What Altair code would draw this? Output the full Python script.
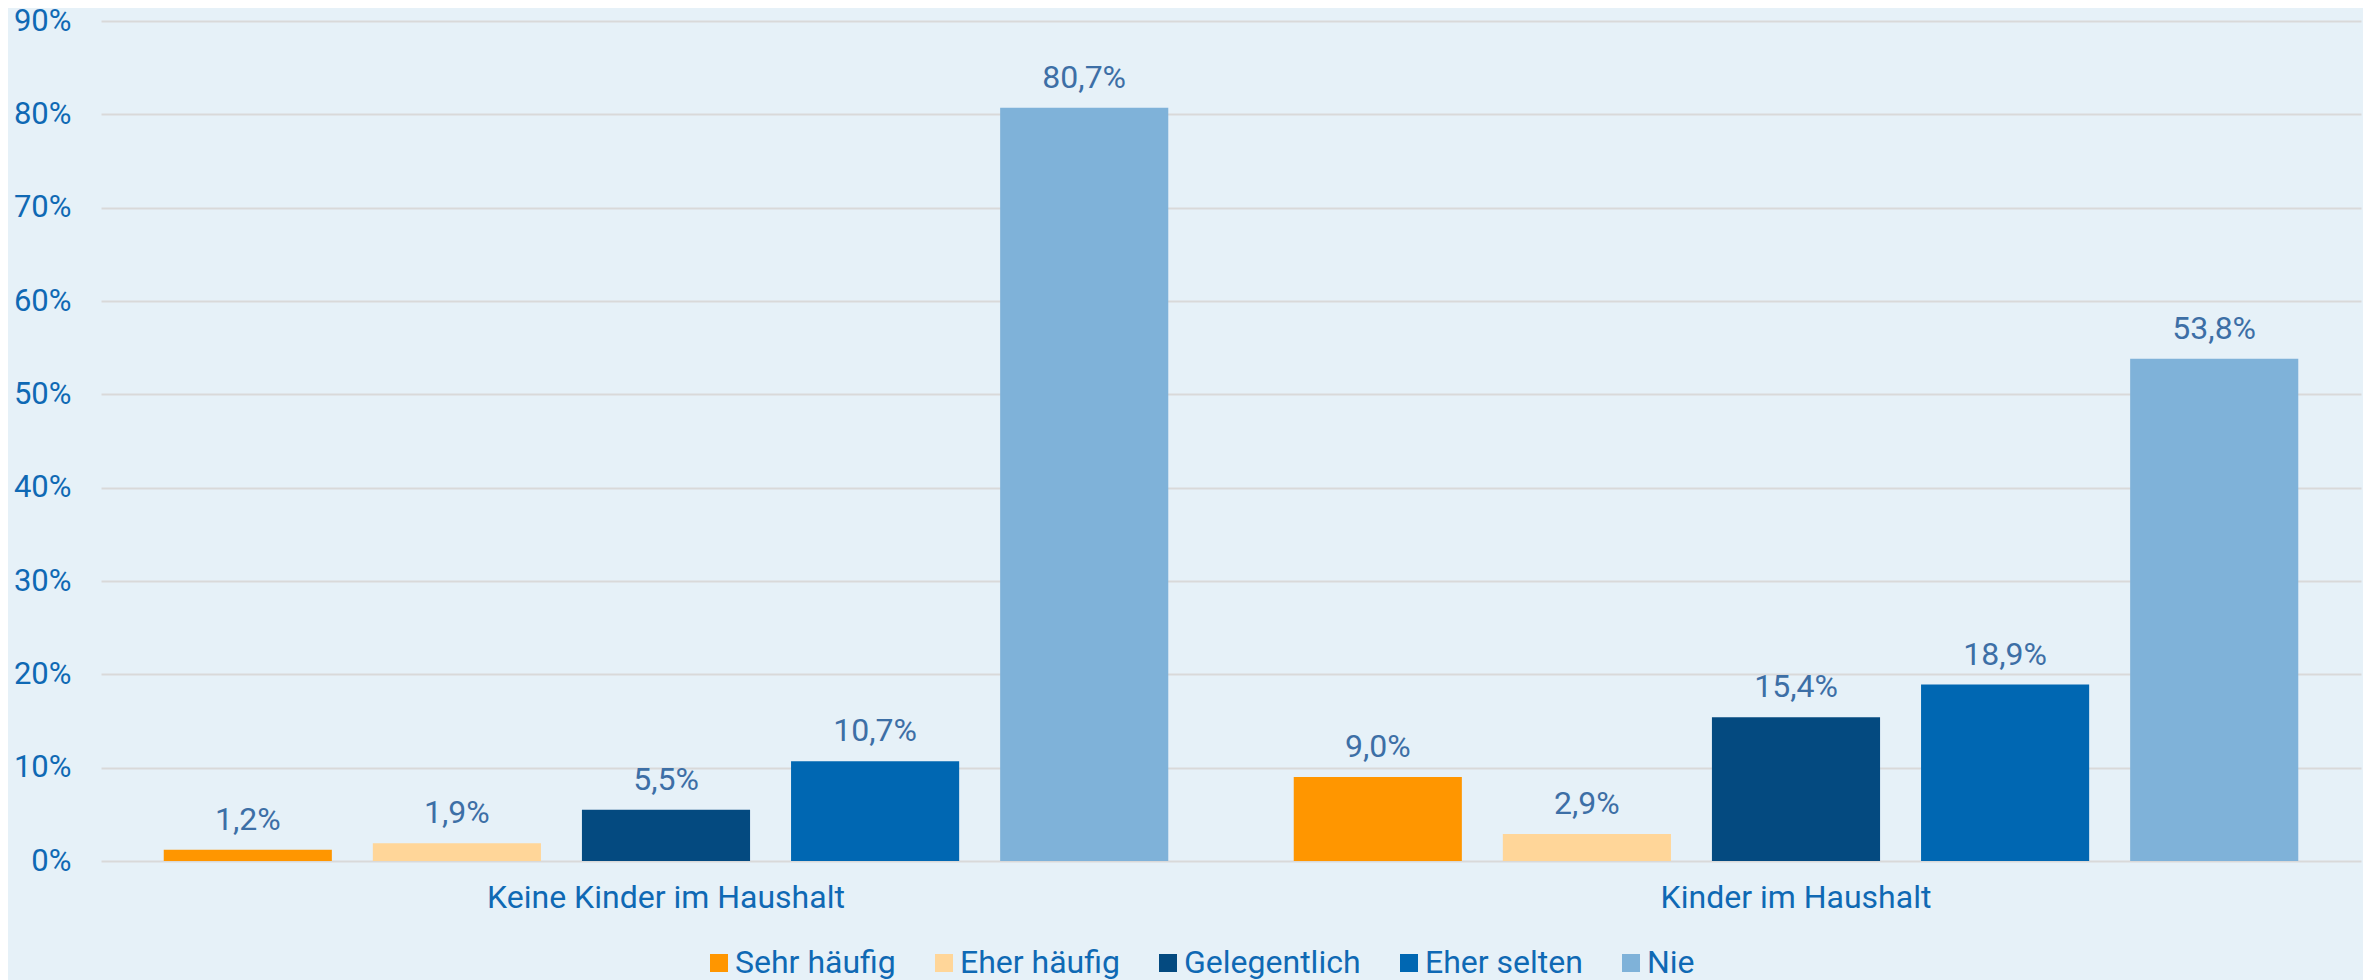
import altair as alt
import pandas as pd

groups = ["Keine Kinder im Haushalt", "Kinder im Haushalt"]
answers = ["Sehr häufig", "Eher häufig", "Gelegentlich", "Eher selten", "Nie"]
keine_kinder = [1.2, 1.9, 5.5, 10.7, 80.7]
kinder = [9.0, 2.9, 15.4, 18.9, 53.8]
colors = ["#FF9600", "#FFD699", "#044A80", "#0067B2", "#7FB2D9"]
y_ticks = [0, 10, 20, 30, 40, 50, 60, 70, 80, 90]

rows = []
for g, vals in zip(groups, [keine_kinder, kinder]):
    for a, v in zip(answers, vals):
        rows.append({"Gruppe": g, "Antwort": a, "Wert": v})
df = pd.DataFrame(rows)

FONT = "Roboto"

x_enc = alt.X(
    "Gruppe:N",
    sort=groups,
    scale=alt.Scale(paddingInner=0, paddingOuter=0),
    axis=alt.Axis(
        title=None, labelAngle=0, labelFontSize=32, labelColor="#0F69B4",
        labelFont=FONT, labelPadding=21, ticks=False, domain=False,
        labelLimit=0,
    ),
)
xoff_enc = alt.XOffset(
    "Antwort:N", sort=answers,
    scale=alt.Scale(paddingInner=0.196, paddingOuter=0.30),
)
y_enc = alt.Y(
    "Wert:Q",
    scale=alt.Scale(domain=[0, 90], nice=False),
    axis=alt.Axis(
        title=None, values=y_ticks, labelExpr="datum.value + '%'",
        labelFontSize=31, labelColor="#0F69B4", labelFont=FONT,
        labelPadding=30, ticks=False, domain=False,
        grid=True, gridColor="#D9D9D9", gridWidth=2,
    ),
)

bars = alt.Chart(df).mark_bar().encode(
    x=x_enc,
    xOffset=xoff_enc,
    y=y_enc,
    color=alt.Color(
        "Antwort:N", sort=answers,
        scale=alt.Scale(domain=answers, range=colors),
        legend=alt.Legend(
            title=None, orient="none", legendX=602, legendY=926,
            direction="horizontal", symbolType="square", symbolSize=324,
            symbolStrokeWidth=0, labelFontSize=32, labelColor="#0F69B4",
            labelFont=FONT, columnPadding=32, labelOffset=0, labelLimit=0,
        ),
    ),
)

labels = alt.Chart(df).transform_calculate(
    label="replace(format(datum.Wert, '.1f'), '.', ',') + '%'"
).mark_text(
    dy=-20, baseline="alphabetic", fontSize=32, color="#3D6FA6", font=FONT
).encode(
    x=alt.X("Gruppe:N", sort=groups),
    xOffset=alt.XOffset("Antwort:N", sort=answers),
    y=alt.Y("Wert:Q"),
    text="label:N",
)

chart = alt.layer(bars, labels).properties(
    width=2260, height=840,
    autosize=alt.AutoSizeParams(type="none"),
    padding={"left": 93, "top": 13, "right": 2, "bottom": 119},
).configure(
    background="#E6F1F8",
).configure_view(stroke=None)

chart.save("out.html", embed_options={"renderer": "svg", "actions": False})
